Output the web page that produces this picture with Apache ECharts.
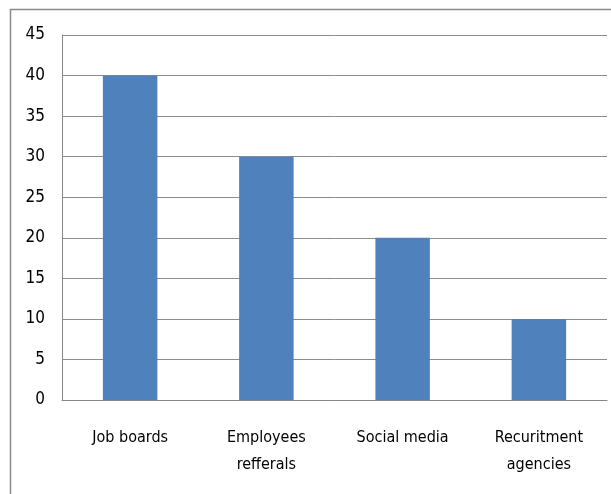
<!DOCTYPE html>
<html>
<head>
<meta charset="utf-8">
<script src="https://cdn.jsdelivr.net/npm/echarts@6/dist/echarts.min.js"></script>
<style>html,body{margin:0;padding:0;background:#fff;}#c{width:611px;height:494px;}</style>
</head>
<body>
<div id="c"></div>
<script>
var categories = ['Job boards', 'Employees\nrefferals', 'Social media', 'Recuritment\nagencies'];
var values = [40, 30, 20, 10];
var yTicks = [0, 5, 10, 15, 20, 25, 30, 35, 40, 45];

var FONT = '"DejaVu Sans Condensed", sans-serif';
var chart = echarts.init(document.getElementById('c'));
chart.setOption({
  animation: false,
  backgroundColor: '#fff',
  graphic: [{
    type: 'rect',
    shape: { x: 10.5, y: 9.5, width: 700, height: 600 },
    style: { fill: 'none', stroke: '#8a8a8a', lineWidth: 1.5 },
    silent: true
  }],
  grid: { left: 62, right: 4, top: 35, bottom: 94 },
  xAxis: {
    type: 'category',
    data: categories,
    axisLine: { lineStyle: { color: '#868686' } },
    axisTick: { show: false },
    axisLabel: { color: '#000', fontFamily: FONT, fontSize: 16, lineHeight: 27, margin: 24, interval: 0 }
  },
  yAxis: {
    type: 'value',
    min: yTicks[0],
    max: yTicks[yTicks.length - 1],
    interval: 5,
    axisLine: { show: true, lineStyle: { color: '#868686' } },
    axisTick: { show: false },
    splitLine: { lineStyle: { color: '#8c8c8c', width: 1 } },
    axisLabel: { color: '#000', fontFamily: FONT, fontSize: 17, margin: 17 }
  },
  series: [{
    type: 'bar',
    data: values,
    barWidth: '40%',
    itemStyle: { color: '#4F81BD' }
  }]
});
</script>
</body>
</html>
